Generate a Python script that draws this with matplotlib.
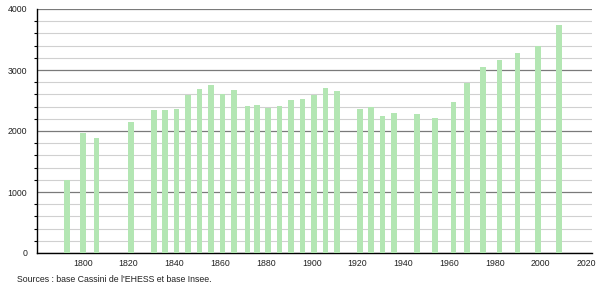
import numpy as np
import matplotlib
matplotlib.use("Agg")
import matplotlib.pyplot as plt
from matplotlib.ticker import MultipleLocator

# census years and population
years = [1793, 1800, 1806, 1821, 1831, 1836, 1841, 1846, 1851, 1856, 1861, 1866,
         1872, 1876, 1881, 1886, 1891, 1896, 1901, 1906, 1911, 1921, 1926, 1931,
         1936, 1946, 1954, 1962, 1968, 1975, 1982, 1990, 1999, 2008]
population = [1197, 1962, 1885, 2153, 2350, 2350, 2364, 2590, 2694, 2754, 2611, 2667,
              2410, 2431, 2382, 2410, 2503, 2525, 2590, 2700, 2656, 2366, 2388, 2240,
              2295, 2279, 2213, 2475, 2787, 3044, 3164, 3279, 3393, 3738]
x_ticks = [1800, 1820, 1840, 1860, 1880, 1900, 1920, 1940, 1960, 1980, 2000, 2020]
y_ticks = [0, 1000, 2000, 3000, 4000]
source = "Sources : base Cassini de l'EHESS et base Insee."

plt.rcParams['font.family'] = ['Liberation Sans', 'DejaVu Sans']

fig = plt.figure(figsize=(6, 2.87), dpi=100)
ax = fig.add_axes([37/600, 1 - 253/287, (592 - 37)/600, (253 - 9)/287])

#bars
ax.bar(years, population, width=2.45, color='#b3e6b3', zorder=3)

#axes limits and ticks
ax.set_xlim(1780, 2022.5)
ax.set_ylim(0, 4000)
ax.set_xticks(x_ticks)
ax.set_yticks(y_ticks)
ax.yaxis.set_minor_locator(MultipleLocator(200))
ax.tick_params(axis='x', length=0, labelsize=6.3, pad=4, colors='#222222')
ax.tick_params(axis='y', which='major', length=0, labelsize=6.3, pad=7, colors='#222222')
ax.tick_params(axis='y', which='minor', length=2, width=0.8, direction='out')

#grid: light every 200, dark every 1000
ax.grid(axis='y', which='minor', color='#d0d0d0', linewidth=0.8, zorder=0)
ax.grid(axis='y', which='major', color='#7a7a7a', linewidth=0.9, zorder=1)
ax.set_axisbelow(True)

for side in ['top', 'right']:
    ax.spines[side].set_visible(False)
ax.spines['left'].set_linewidth(1.0)
ax.spines['bottom'].set_linewidth(1.0)

fig.text(17/600, 1 - 279/287, source, fontsize=6.3, va='center', ha='left', color='#222222')

fig.savefig('out.png', dpi=100)
